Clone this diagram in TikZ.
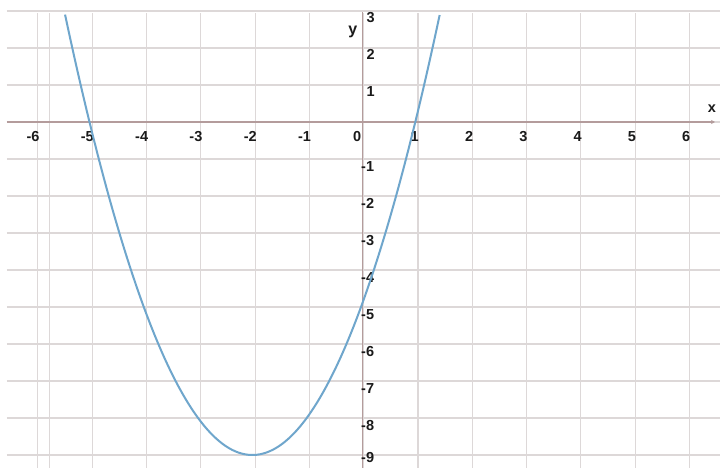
\documentclass[tikz,border=0pt]{standalone}
\usepackage{fontspec}
\setmainfont{Liberation Sans}
\usetikzlibrary{arrows.meta}
\definecolor{gridc}{HTML}{DDD8D8}
\definecolor{axisc}{HTML}{B49C9C}
\definecolor{curvec}{HTML}{6FA6CC}
\definecolor{labc}{HTML}{1A1A1A}
\tikzset{
  gridline/.style={gridc, line width=1.1pt},
  axisline/.style={axisc, line width=1.3pt},
  curveline/.style={curvec, line width=2pt},
  ticklab/.style={font=\bfseries\fontsize{14.5}{14.5}\selectfont, text=labc, inner sep=0pt, text height=10.5pt, text depth=0pt},
}
\begin{document}
\begin{tikzpicture}[x=54.3pt, y=37pt]
\path[use as bounding box, fill=white] (-361pt,-346pt) rectangle (359pt,122pt);
% grid
\foreach \k in {-9,...,3} \draw[gridline] (-354pt,\k) -- (359pt,\k);
\foreach \i in {-6,...,6} \draw[gridline] (\i+0.05,-346pt) -- (\i+0.05,109pt);
\draw[gridline] (-5.73,-346pt) -- (-5.73,109pt);
% axes
\coordinate (xs) at (-354pt,0);
\coordinate (xe) at (354pt,0);
\coordinate (ys) at (0.03,-346pt);
\coordinate (ye) at (0.03,110pt);
\draw[axisline, -{Stealth[length=4pt,width=4pt]}] (xs) -- (xe);
\draw[axisline] (ys) -- (ye);
\node[ticklab] (xl) at (351pt,15pt) {x};
\node[ticklab, font=\bfseries\fontsize{16}{16}\selectfont, text height=8pt] (yl) at (-0.15,91pt) {y};
% x labels
\foreach \i in {-6,...,-1} \node[ticklab] (x\i) at (\i-0.04,-14pt) {-\the\numexpr-\i\relax};
\node[ticklab] (x0) at (-0.07,-14pt) {0};
\foreach \i in {1,...,6} \node[ticklab] (x\i) at (\i-0.01,-14pt) {\i};
% y labels
\foreach \k in {1,2,3} \node[ticklab, anchor=north west] (y\k) at (0.1,\k-0.02) {\k};
\foreach \k in {1,...,8} \node[ticklab, anchor=north west] (ym\k) at (0.0,-\k-0.04) {-\k};
\node[ticklab, anchor=south west] (ym9) at (0.0,-341pt) {-9};
% curve
\draw[curveline, domain=-5.45:1.45, samples=120, smooth] plot (\x,{(\x+2)*(\x+2)-9});
\end{tikzpicture}
\end{document}
